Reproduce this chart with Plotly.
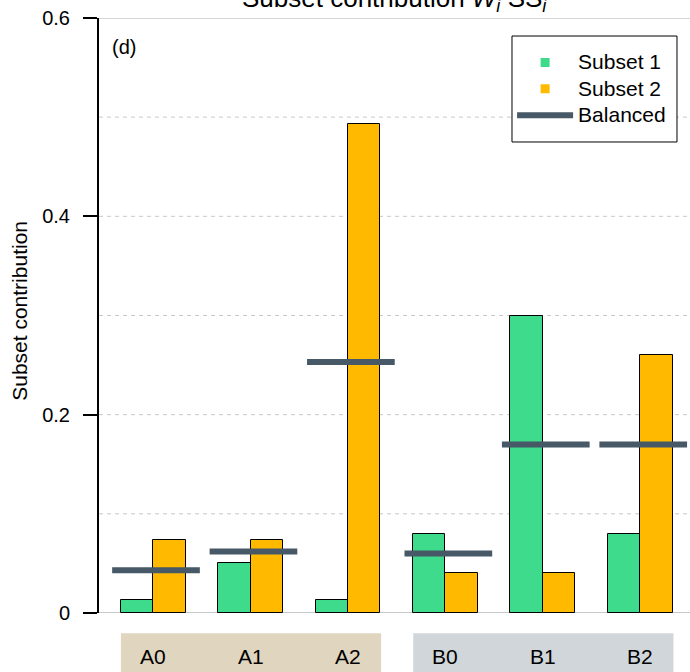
import plotly.graph_objects as go

categories = ["A0", "A1", "A2", "B0", "B1", "B2"]
subset1 = [0.013, 0.050, 0.013, 0.080, 0.300, 0.080]
subset2 = [0.074, 0.074, 0.493, 0.040, 0.040, 0.260]
balanced = [0.043, 0.062, 0.253, 0.060, 0.170, 0.170]
group_names = ["A", "B"]
group_colors = ["#e0d5be", "#d0d6d9"]
yticks = [0, 0.2, 0.4, 0.6]
ytick_text = ["0", "0.2", "0.4", "0.6"]
grid_vals = [0.1, 0.2, 0.3, 0.4, 0.5]

FONT = "Liberation Sans, Arial, Helvetica, sans-serif"
GREEN = "#3ddb8b"
ORANGE = "#ffba00"
SLATE = "#475966"

xs = list(range(len(categories)))

def big(t):
    return "<span style='font-size:21px'>" + t + "</span>"

fig = go.Figure()
fig.add_trace(go.Bar(
    x=xs, y=subset1, name="Subset 1", width=0.333, offset=-0.333, showlegend=False,
    marker=dict(color=GREEN, line=dict(color="black", width=1)),
))
fig.add_trace(go.Bar(
    x=xs, y=subset2, name="Subset 2", width=0.333, offset=0.0, showlegend=False,
    marker=dict(color=ORANGE, line=dict(color="black", width=1)),
))
bx, by = [], []
for i, v in zip(xs, balanced):
    bx += [i - 0.42, i + 0.48, None]
    by += [v, v, None]
fig.add_trace(go.Scatter(
    x=bx, y=by, mode="lines", name="Balanced", showlegend=False,
    line=dict(color=SLATE, width=6),
))
# legend entries
fig.add_trace(go.Scatter(x=[None], y=[None], mode="markers", name=big("Subset 1"),
                         marker=dict(symbol="square", size=9, color=GREEN)))
fig.add_trace(go.Scatter(x=[None], y=[None], mode="markers", name=big("Subset 2"),
                         marker=dict(symbol="square", size=9, color=ORANGE)))
fig.add_trace(go.Scatter(x=[None], y=[None], mode="lines", name=big("Balanced"),
                         line=dict(color=SLATE, width=6)))

shapes = []
for g in grid_vals:
    shapes.append(dict(type="line", xref="paper", yref="y", x0=0, x1=1, y0=g, y1=g,
                       line=dict(color="#c8c8c8", width=1, dash="4px,4px"), layer="below"))
shapes.append(dict(type="line", xref="paper", yref="y", x0=0, x1=1, y0=0.6, y1=0.6,
                   line=dict(color="#d6d6d6", width=2), layer="below"))
shapes.append(dict(type="line", xref="paper", yref="y", x0=0, x1=1, y0=0, y1=0,
                   line=dict(color="#c8c8c8", width=2), layer="below"))
for gi, (gname, gcol) in enumerate(zip(group_names, group_colors)):
    members = [i for i, c in enumerate(categories) if c.startswith(gname)]
    shapes.append(dict(type="rect", xref="x", yref="paper",
                       x0=min(members) - 0.33, x1=max(members) + 0.34,
                       y0=-0.12, y1=-0.034, fillcolor=gcol, line=dict(width=0), layer="below"))
# legend frame
shapes.append(dict(type="rect", xref="paper", yref="paper", x0=0.6988, x1=0.978, y0=0.7916, y1=0.9697,
                   fillcolor="white", line=dict(color="black", width=1), layer="above"))

annotations = []
for i, c in enumerate(categories):
    annotations.append(dict(x=i, y=-0.0723, xref="x", yref="paper", text=c, showarrow=False,
                            yanchor="middle",
                            font=dict(size=21, color="black", family=FONT)))
annotations.append(dict(x=0.5, y=1.0, xref="paper", yref="paper", xanchor="center", yanchor="bottom",
                        text="Subset contribution <i>W<sub>i</sub></i> SS<sub><i>i</i></sub>",
                        showarrow=False, font=dict(size=26, color="black", family=FONT)))
annotations.append(dict(x=0.0186, y=0.951, xref="paper", yref="paper", xanchor="left", yanchor="middle",
                        text="(d)", showarrow=False, font=dict(size=20, color="black", family=FONT)))
annotations.append(dict(x=-0.134, y=0.5076, xref="paper", yref="paper", xanchor="center", yanchor="middle",
                        text="Subset contribution", textangle=-90, showarrow=False,
                        font=dict(size=21, color="black", family=FONT)))

fig.update_layout(
    width=690, height=672,
    margin=dict(l=99, r=0, t=18, b=59),
    plot_bgcolor="white", paper_bgcolor="white",
    font=dict(family=FONT, size=21, color="black"),
    showlegend=True,
    legend=dict(x=0.699, y=0.956, xanchor="left", yanchor="top",
                bgcolor="rgba(0,0,0,0)", borderwidth=0,
                font=dict(size=18, family=FONT), itemwidth=56),
    xaxis=dict(range=[-0.555, 5.51], showticklabels=False, showgrid=False, zeroline=False,
               showline=False, ticks=""),
    yaxis=dict(range=[0, 0.6], tickvals=yticks, ticktext=ytick_text, ticks="outside", ticklen=14,
               tickwidth=2, tickcolor="black", showline=True, linecolor="black", linewidth=2,
               showgrid=False, zeroline=False, ticklabelstandoff=9,
               tickfont=dict(size=20, family=FONT)),
    shapes=shapes, annotations=annotations, bargap=0,
)

fig.write_html("out.html", config={"displayModeBar": False},
               post_script="document.body.style.margin='0';")
